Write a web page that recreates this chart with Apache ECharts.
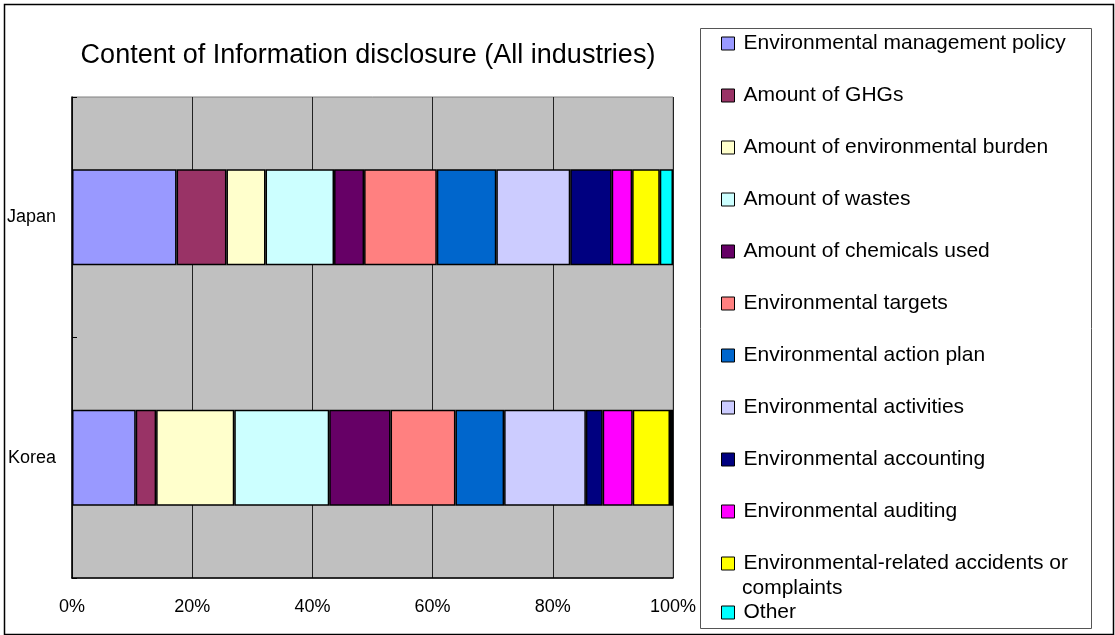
<!DOCTYPE html>
<html>
<head>
<meta charset="utf-8">
<script src="https://cdn.jsdelivr.net/npm/echarts@6/dist/echarts.min.js"></script>
<style>
html,body{margin:0;padding:0;background:#fff;}
#chart{width:1115px;height:635px;}
</style>
</head>
<body>
<div id="chart"></div>
<script>
const categories = ['Japan', 'Korea'];
const seriesNames = [
  'Environmental management policy',
  'Amount of GHGs',
  'Amount of environmental burden',
  'Amount of wastes',
  'Amount of chemicals used',
  'Environmental targets',
  'Environmental action plan',
  'Environmental activities',
  'Environmental accounting',
  'Environmental auditing',
  'Environmental-related accidents or complaints',
  'Other'
];
const japanValues = [17.4, 8.3, 6.5, 11.4, 5.0, 12.1, 9.9, 12.3, 6.9, 3.4, 4.6, 2.2];
const koreaValues = [10.6, 3.4, 13.0, 15.8, 10.2, 10.8, 8.1, 13.6, 2.8, 5.0, 6.2, 0.5];
const colors = ['#9999FF', '#993366', '#FFFFCC', '#CCFFFF', '#660066', '#FF8080',
                '#0066CC', '#CCCCFF', '#000080', '#FF00FF', '#FFFF00', '#00FFFF'];
const xTicks = [0, 20, 40, 60, 80, 100];

const FONT = '"Liberation Sans", Arial, sans-serif';
const chart = echarts.init(document.getElementById('chart'), null, {renderer: 'canvas'});

const series = seriesNames.map((name, i) => ({
  name: name,
  type: 'bar',
  stack: 'total',
  barWidth: 96,
  data: [japanValues[i], koreaValues[i]],
  itemStyle: {color: colors[i], borderColor: '#000', borderWidth: 1.5},
  emphasis: {disabled: true}
}));

const legendCommon = {
  orient: 'vertical',
  left: 721,
  padding: 0,
  itemWidth: 13,
  itemHeight: 13,
  itemGap: 31,
  icon: 'rect',
  selectedMode: false,
  itemStyle: {borderColor: '#000', borderWidth: 1},
  textStyle: {fontFamily: FONT, fontSize: 21, color: '#000', lineHeight: 21, padding: [0, 0, 0, 4]},
  formatter: function (n) {
    return n === 'Environmental-related accidents or complaints' ? 'Environmental-related accidents or' : n;
  }
};

chart.setOption({
  animation: false,
  backgroundColor: '#fff',
  color: colors,
  title: {
    text: 'Content of Information disclosure (All industries)',
    left: 368,
    top: 42,
    padding: 0,
    textAlign: 'center',
    textStyle: {fontFamily: FONT, fontSize: 27, fontWeight: 'normal', color: '#000'}
  },
  legend: [
    Object.assign({}, legendCommon, {top: 33, data: seriesNames.slice(0, 11)}),
    Object.assign({}, legendCommon, {top: 602, data: seriesNames.slice(11)})
  ],
  grid: {left: 72, right: 442, top: 97, bottom: 57, show: true, backgroundColor: '#C0C0C0', borderColor: '#808080', borderWidth: 1},
  xAxis: {
    type: 'value',
    min: 0,
    max: 100,
    interval: 20,
    axisLine: {show: true, lineStyle: {color: '#000', width: 1.5}},
    axisTick: {show: false},
    splitLine: {show: true, lineStyle: {color: '#222', width: 1}},
    axisLabel: {
      margin: 20,
      fontFamily: FONT,
      fontSize: 18,
      color: '#000',
      formatter: function (v) { return xTicks.indexOf(v) >= 0 ? v + '%' : ''; }
    }
  },
  yAxis: {
    type: 'category',
    data: categories,
    inverse: true,
    axisLine: {show: true, lineStyle: {color: '#000', width: 1.5}},
    axisTick: {show: true, inside: true, length: 5, lineStyle: {color: '#000'}},
    axisLabel: {margin: 16, fontFamily: FONT, fontSize: 18, color: '#000'},
    splitLine: {show: false}
  },
  series: series,
  graphic: [
    {type: 'rect', left: 2, top: 2, shape: {width: 1109, height: 630}, style: {fill: 'none', stroke: '#000', lineWidth: 1.5}, silent: true, z: -1},
    {type: 'rect', left: 698, top: 26, shape: {width: 391, height: 600}, style: {fill: 'none', stroke: '#555', lineWidth: 1}, silent: true},
    {type: 'text', left: 742, top: 578, style: {text: 'complaints', font: '21px ' + FONT, fill: '#000'}, silent: true}
  ]
});
</script>
</body>
</html>
